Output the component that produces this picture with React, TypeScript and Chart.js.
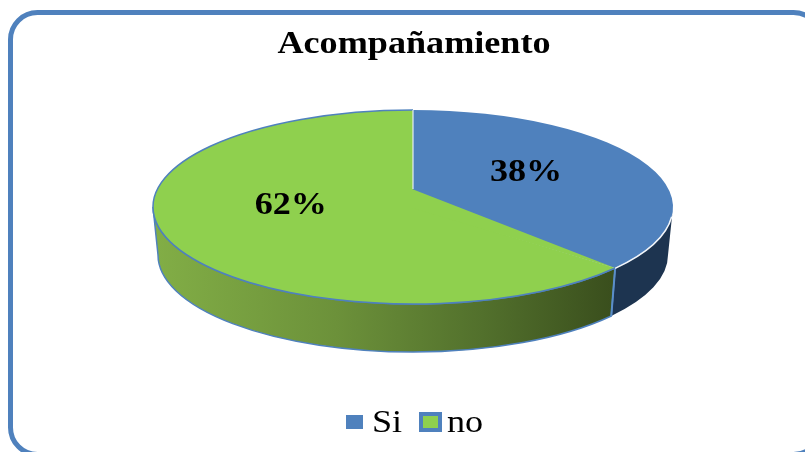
import React, { useEffect, useRef } from "react";
import { Chart, registerables } from "chart.js";

Chart.register(...registerables);

const categories = ["Si", "no"];
const seriesValues = [38, 62];
const topColors = ["#4f81bd", "#8fd04e"];
const legendBoxBorders = [0, 4];
const titleText = "Acompañamiento";

const FRAME = "#4f81bd";
const CX = 413;
const CY = 207;
const APEX_Y = 189;
const RX = 260;
const RY = 97;
const BOTTOM_RX = 255;
const DEPTH = 48;
const PERSPECTIVE = 0.137;
const STRETCH = 1.13;
const SERIF = "'Liberation Serif', serif";

const project = (a: number) => {
  const th = a + Math.PI / 2;
  return th + PERSPECTIVE * Math.sin(2 * th) - Math.PI / 2;
};

const stretchedText = (ctx: any, text: string, x: number, y: number, sx: number) => {
  ctx.save();
  ctx.translate(x, y);
  ctx.scale(sx, 1);
  ctx.fillText(text, 0, 0);
  ctx.restore();
};

const pie3d = {
  id: "pie3d",
  afterLayout(chart: any) {
    const block = chart.titleBlock;
    if (block && !block.__wide) {
      block.__wide = true;
      const draw = block.draw.bind(block);
      block.draw = () => {
        const { ctx } = chart;
        const mid = 414;
        ctx.save();
        ctx.translate(mid, 0);
        ctx.scale(STRETCH, 1);
        ctx.translate(-(block.left + block.right) / 2, 0);
        draw();
        ctx.restore();
      };
    }
  },
  afterDatasetsUpdate(chart: any) {
    chart.getDatasetMeta(0).data.forEach((arc: any) => {
      const s = project(arc.startAngle);
      const e = project(arc.endAngle);
      arc.startAngle = s;
      arc.endAngle = e;
      arc.circumference = e - s;
    });
  },
  beforeDraw(chart: any) {
    const { ctx } = chart;
    ctx.save();
    ctx.fillStyle = "#ffffff";
    ctx.fillRect(0, 0, 805, 452);
    ctx.strokeStyle = FRAME;
    ctx.lineWidth = 5;
    ctx.beginPath();
    ctx.roundRect(10.5, 12.5, 810, 442, 27);
    ctx.stroke();
    ctx.restore();
  },
  beforeDatasetsDraw(chart: any) {
    const { ctx } = chart;
    const arcs = chart.getDatasetMeta(0).data;
    ctx.save();
    arcs.forEach((arc: any, i: number) => {
      const ranges = [
        [arc.startAngle, arc.endAngle],
        [arc.startAngle + 2 * Math.PI, arc.endAngle + 2 * Math.PI],
      ];
      ranges.forEach(([r0, r1]) => {
        const a = Math.max(r0, 0);
        const b = Math.min(r1, Math.PI);
        if (b <= a) return;
        ctx.beginPath();
        ctx.ellipse(CX, CY, RX, RY, 0, a, b);
        ctx.ellipse(CX, CY + DEPTH, BOTTOM_RX, RY, 0, b, a, true);
        ctx.closePath();
        if (i === 0) {
          ctx.fillStyle = "#1d3450";
        } else {
          const g = ctx.createLinearGradient(CX - RX, 0, CX + 198, 0);
          g.addColorStop(0, "#82ae46");
          g.addColorStop(0.4, "#6c913a");
          g.addColorStop(0.72, "#52702c");
          g.addColorStop(1, "#3a4f1d");
          ctx.fillStyle = g;
        }
        ctx.fill();
        if (i === 1) {
          ctx.strokeStyle = FRAME;
          ctx.lineWidth = 1.5;
          ctx.stroke();
        }
      });
    });
    const edge = arcs[0].endAngle;
    ctx.strokeStyle = "#5b8ec9";
    ctx.lineWidth = 2;
    ctx.beginPath();
    ctx.moveTo(CX + RX * Math.cos(edge), CY + RY * Math.sin(edge));
    ctx.lineTo(CX + BOTTOM_RX * Math.cos(edge), CY + DEPTH + RY * Math.sin(edge));
    ctx.stroke();
    ctx.restore();
    const first = arcs[0];
    ctx.save();
    ctx.translate(CX, CY);
    ctx.scale(RX / first.outerRadius, RY / first.outerRadius);
    ctx.translate(-first.x, -first.y);
  },
  afterDatasetsDraw(chart: any) {
    const { ctx } = chart;
    ctx.restore();
    const arcs = chart.getDatasetMeta(0).data;
    ctx.save();
    const green = arcs[1];
    const edge = arcs[0].endAngle;
    const edgeX = CX + RX * Math.cos(edge);
    const edgeY = CY + RY * Math.sin(edge);
    // the slices meet at a perspective apex a little above the ellipse centre
    ctx.fillStyle = topColors[1];
    ctx.beginPath();
    ctx.moveTo(CX - 1, APEX_Y);
    ctx.lineTo(edgeX, edgeY);
    ctx.lineTo(CX - 1, CY + 1);
    ctx.closePath();
    ctx.fill();
    ctx.strokeStyle = FRAME;
    ctx.lineWidth = 1.5;
    ctx.beginPath();
    ctx.ellipse(CX, CY, RX, RY, 0, green.startAngle, green.endAngle);
    ctx.stroke();
    ctx.strokeStyle = "#f2f6fb";
    ctx.beginPath();
    ctx.ellipse(CX, CY, RX, RY + 0.5, 0, 0.1, edge);
    ctx.stroke();
    ctx.strokeStyle = "#e4edf4";
    ctx.lineWidth = 1.2;
    ctx.beginPath();
    ctx.moveTo(CX, CY - RY);
    ctx.lineTo(CX, APEX_Y);
    ctx.stroke();

    ctx.fillStyle = "#000000";
    ctx.font = "bold 32px " + SERIF;
    ctx.textAlign = "center";
    ctx.textBaseline = "middle";
    const total = seriesValues.reduce((s, v) => s + v, 0);
    const spots = [
      [0.435, -0.35],
      [-0.47, -0.01],
    ];
    seriesValues.forEach((v, i) => {
      stretchedText(
        ctx,
        Math.round((v / total) * 100) + "%",
        CX + RX * spots[i][0],
        CY + RY * spots[i][1],
        STRETCH
      );
    });

    ctx.font = "32px " + SERIF;
    ctx.textAlign = "left";
    ctx.textBaseline = "alphabetic";
    const boxes = [
      [346, 415, 17, 14],
      [421, 414, 19, 16],
    ];
    const textX = [372, 447];
    categories.forEach((c, i) => {
      const [x, y, w, h] = boxes[i];
      ctx.fillStyle = topColors[i];
      ctx.fillRect(x, y, w, h);
      if (legendBoxBorders[i] > 0) {
        ctx.strokeStyle = FRAME;
        ctx.lineWidth = legendBoxBorders[i];
        ctx.strokeRect(x, y, w, h);
      }
      ctx.fillStyle = "#000000";
      stretchedText(ctx, c, textX[i], 432, STRETCH);
    });
    ctx.restore();
  },
};

export default function App() {
  const ref = useRef<HTMLCanvasElement | null>(null);
  useEffect(() => {
    const chart = new Chart(ref.current as HTMLCanvasElement, {
      type: "pie",
      data: {
        labels: categories,
        datasets: [
          {
            data: seriesValues,
            backgroundColor: topColors,
            borderWidth: 0,
            radius: RX,
            clip: false,
          } as any,
        ],
      },
      options: {
        responsive: false,
        animation: false,
        events: [],
        plugins: {
          tooltip: { enabled: false },
          legend: { display: false },
          title: {
            display: true,
            text: titleText,
            color: "#000000",
            font: { family: SERIF, size: 32, weight: "bold" },
            padding: { top: 26, bottom: 6 },
          },
        },
      },
      plugins: [pie3d],
    } as any);
    return () => chart.destroy();
  }, []);
  return (
    <div style={{ position: "absolute", left: 0, top: 0, width: 805, height: 452, overflow: "hidden" }}>
      <canvas ref={ref} width={805} height={452} style={{ display: "block" }} />
    </div>
  );
}
